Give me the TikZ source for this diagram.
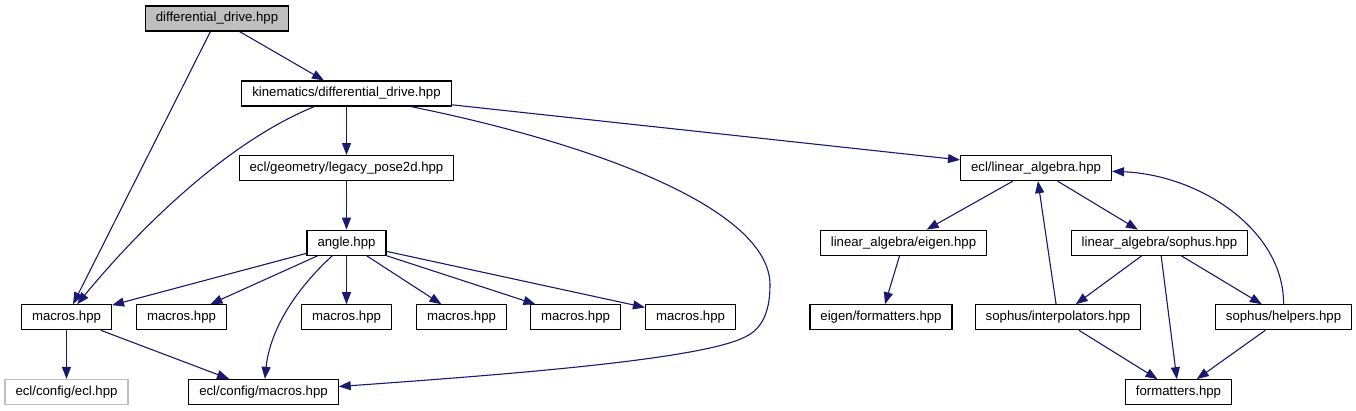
\documentclass[tikz,border=0pt]{standalone}
\usepackage{fontspec}
\setmainfont{Liberation Sans}
\usetikzlibrary{positioning,arrows.meta}
\definecolor{edgeblue}{HTML}{191970}
\definecolor{rootgray}{HTML}{BFBFBF}
\tikzset{
  file/.style={draw=black, fill=white, line width=1.1pt, minimum height=25pt,
    inner xsep=10.5pt, inner ysep=0pt, font=\fontsize{13.2pt}{15pt}\selectfont},
  rootfile/.style={file, fill=rootgray},
  extfile/.style={file, draw=rootgray},
  dep/.style={draw=edgeblue, line width=1.1pt, -{Triangle[length=12pt,width=9pt,fill=edgeblue]}},
}

\begin{document}
\begin{tikzpicture}[on grid, node distance=74.6pt]
\useasboundingbox (0,0) rectangle (1356pt,-411pt);
\node[rootfile] (dd) at (217pt,-18.5pt) {differential\_drive.hpp};
\node[file, below right=75pt and 129.5pt of dd] (kin) {kinematics/differential\_drive.hpp};
\node[file, below=of kin] (geo) {ecl/geometry/legacy\_pose2d.hpp};
\node[file, below=of geo] (ang) {angle.hpp};
\node[file, below=of ang] (m3) {macros.hpp};
\node[file, left=280pt of m3] (m1) {macros.hpp};
\node[file, left=165pt of m3] (m2) {macros.hpp};
\node[file, right=115pt of m3] (m4) {macros.hpp};
\node[file, right=229pt of m3] (m5) {macros.hpp};
\node[file, right=344pt of m3] (m6) {macros.hpp};
\node[extfile, below=of m1] (ecl) {ecl/config/ecl.hpp};
\node[file, below right=74.6pt and 197pt of m1] (cfg) {ecl/config/macros.hpp};
\node[file, right=689.5pt of geo] (la) {ecl/linear\_algebra.hpp};
\node[file, below left=74.6pt and 132.5pt of la] (eig) {linear\_algebra/eigen.hpp};
\node[file, below right=74.6pt and 123.5pt of la] (soph) {linear\_algebra/sophus.hpp};
\node[file, below left=74.6pt and 22.5pt of eig] (efmt) {eigen/formatters.hpp};
\node[file, below left=74.6pt and 101.5pt of soph] (interp) {sophus/interpolators.hpp};
\node[file, below right=74.6pt and 124pt of soph] (help) {sophus/helpers.hpp};
\node[file, below right=149.5pt and 19pt of soph] (fmt) {formatters.hpp};

\draw[dep] (dd) -- (m1);
\draw[dep] (dd) -- (kin);
\draw[dep] (kin) .. controls (220pt,-145pt) and (130pt,-240pt) .. (m1);
\draw[dep] (kin) -- (geo);
\draw[dep] (kin) -- (la);
\draw[dep] (kin) .. controls (600pt,-145pt) and (770pt,-210pt) .. (770pt,-285pt)
  .. controls (770pt,-315pt) and (760pt,-330pt) .. (745pt,-337pt)
  .. controls (700pt,-360pt) and (500pt,-375pt) .. (cfg);
\draw[dep] (geo) -- (ang);
\draw[dep] (ang) -- (m1);
\draw[dep] (ang) -- (m2);
\draw[dep] (ang) .. controls (295pt,-290pt) and (270pt,-330pt) .. (cfg);
\draw[dep] (ang) -- (m3);
\draw[dep] (ang) -- (m4);
\draw[dep] (ang) -- (m5);
\draw[dep] (ang) -- (m6);
\draw[dep] (m1) -- (ecl);
\draw[dep] (m1) -- (cfg);
\draw[dep] (la) -- (eig);
\draw[dep] (la) -- (soph);
\draw[dep] (eig) -- (efmt);
\draw[dep] (soph) -- (interp);
\draw[dep] (soph) -- (fmt);
\draw[dep] (soph) -- (help);
\draw[dep] (interp) -- (la);
\draw[dep] (interp) -- (fmt);
\draw[dep] (help) .. controls (1284pt,-230pt) and (1200pt,-175pt) .. (la);
\draw[dep] (help) -- (fmt);
\end{tikzpicture}
\end{document}
